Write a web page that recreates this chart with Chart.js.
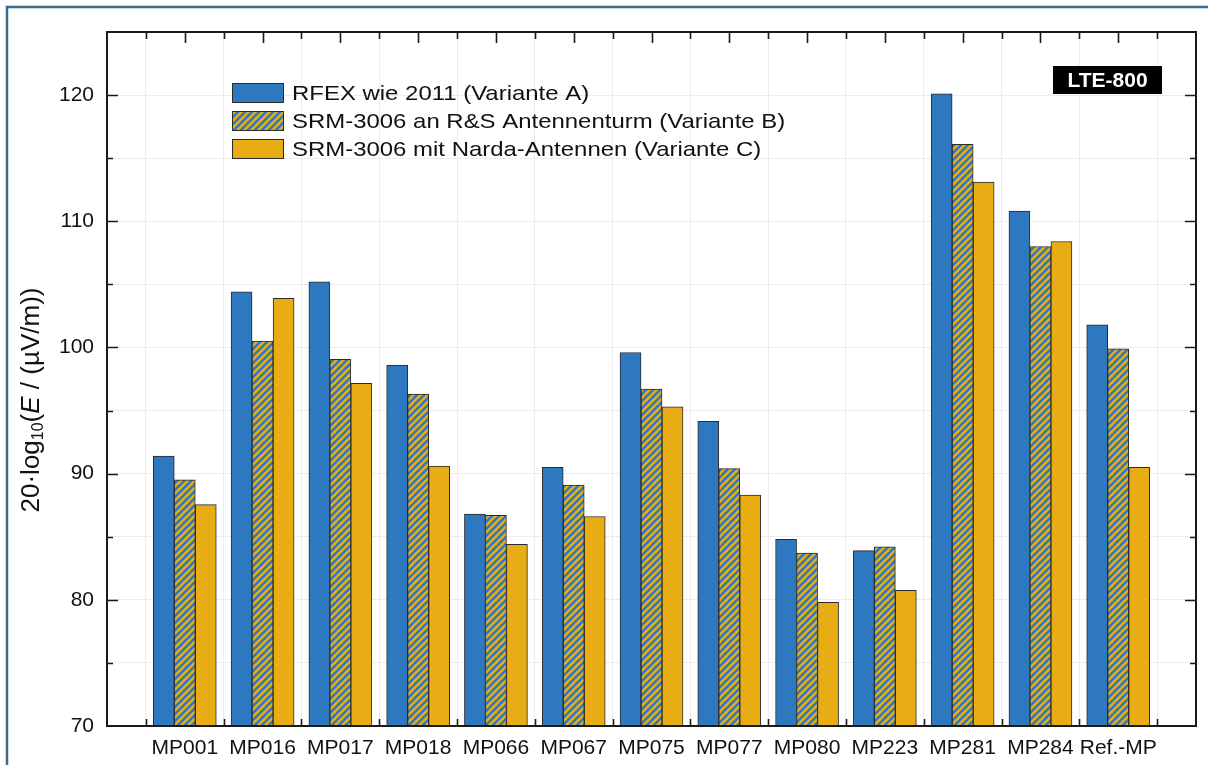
<!DOCTYPE html>
<html>
<head>
<meta charset="utf-8">
<script src="https://cdn.jsdelivr.net/npm/chart.js@4.4.0/dist/chart.umd.min.js"></script>
<style>
  html, body { margin: 0; padding: 0; background: #fff; }
  #wrap { width: 1208px; height: 765px; }
</style>
</head>
<body>
<div id="wrap"><canvas id="chart" width="1208" height="765"></canvas></div>
<script>
// Messpunkte
const categories = ['MP001', 'MP016', 'MP017', 'MP018', 'MP066', 'MP067', 'MP075',
  'MP077', 'MP080', 'MP223', 'MP281', 'MP284', 'Ref.-MP'];

// 20*log10(E/(µV/m)) per Variante
const varianteA = [91.4, 104.4, 105.2, 98.6, 86.8, 90.5, 99.6, 94.15, 84.8, 83.9, 120.1, 110.8, 101.8];
const varianteB = [89.5, 100.5, 99.05, 96.3, 86.7, 89.1, 96.7, 90.4, 83.7, 84.2, 116.1, 108.0, 99.9];
const varianteC = [87.55, 103.9, 97.15, 90.6, 84.4, 86.6, 95.3, 88.3, 79.8, 80.75, 113.1, 108.4, 90.5];

const seriesLabels = [
  'RFEX wie 2011 (Variante A)',
  'SRM-3006 an R&S Antennenturm (Variante B)',
  'SRM-3006 mit Narda-Antennen (Variante C)'
];
const yTickLabels = [70, 80, 90, 100, 110, 120];
const yMin = 70, yMax = 125;

const BLUE = '#2e78bf';
const YELLOW = '#e8ad14';
const EDGE = '#2b2b2b';
const FONT = '"Liberation Sans", Arial, sans-serif';

// blue/yellow diagonal hatch for Variante B
function makeHatch() {
  const s = 7;
  const c = document.createElement('canvas');
  c.width = s; c.height = s;
  const g = c.getContext('2d');
  g.fillStyle = YELLOW;
  g.fillRect(0, 0, s, s);
  g.strokeStyle = BLUE;
  g.lineWidth = 2.4;
  for (let k = -1; k <= 2; k++) {
    g.beginPath();
    g.moveTo(k * s + s, -s);
    g.lineTo(k * s - 2 * s, 2 * s);
    g.stroke();
  }
  return g.createPattern(c, 'repeat');
}
const hatch = makeHatch();

const toPoints = arr => arr.map((v, i) => ({ x: i, y: v }));

// ticks at every half category: boundaries and centres
const xTicks = [];
for (let v = -1; v <= categories.length; v += 0.5) xTicks.push(v);

const decorations = {
  id: 'decorations',
  beforeDraw(chart) {
    const ctx = chart.ctx;
    ctx.save();
    ctx.fillStyle = '#fff';
    ctx.fillRect(0, 0, chart.width, chart.height);
    ctx.strokeStyle = '#3b6b87';
    ctx.lineWidth = 2.5;
    ctx.beginPath();
    ctx.moveTo(7, chart.height);
    ctx.lineTo(7, 7);
    ctx.lineTo(chart.width, 7);
    ctx.stroke();
    ctx.restore();
  },
  afterDraw(chart) {
    const { ctx, chartArea: a, scales: { x, y } } = chart;
    ctx.save();
    ctx.strokeStyle = '#1a1a1a';
    ctx.lineWidth = 2;
    ctx.strokeRect(a.left, a.top, a.right - a.left, a.bottom - a.top);

    ctx.lineWidth = 1.6;
    ctx.beginPath();
    for (let v = yMin + 5; v < yMax; v += 5) {
      const py = Math.round(y.getPixelForValue(v)) + 0.5;
      const len = v % 10 === 0 ? 11 : 6;
      ctx.moveTo(a.left, py); ctx.lineTo(a.left + len, py);
      ctx.moveTo(a.right, py); ctx.lineTo(a.right - len, py);
    }
    for (let i = -0.5; i < categories.length; i += 0.5) {
      const px = Math.round(x.getPixelForValue(i)) + 0.5;
      const major = Number.isInteger(i);
      ctx.moveTo(px, a.top); ctx.lineTo(px, a.top + (major ? 11 : 7));
      if (!major) { ctx.moveTo(px, a.bottom); ctx.lineTo(px, a.bottom - 7); }
    }
    ctx.stroke();

    // legend
    const colors = chart.data.datasets.map(d => d.backgroundColor);
    ctx.font = '21px ' + FONT;
    ctx.textBaseline = 'middle';
    seriesLabels.forEach((lab, i) => {
      const ty = 83 + i * 28;
      ctx.fillStyle = colors[i];
      ctx.fillRect(232, ty, 52, 20);
      ctx.strokeStyle = EDGE;
      ctx.lineWidth = 1;
      ctx.strokeRect(232.5, ty + 0.5, 51, 19);
      ctx.fillStyle = '#111';
      ctx.save();
      ctx.translate(292, ty + 10);
      ctx.scale(1.14, 1);
      ctx.fillText(lab, 0, 1);
      ctx.restore();
    });

    // LTE-800 badge
    ctx.fillStyle = '#000';
    ctx.fillRect(1053, 66, 109, 28);
    ctx.fillStyle = '#fff';
    ctx.font = 'bold 21px ' + FONT;
    ctx.textAlign = 'center';
    ctx.fillText('LTE-800', 1107.5, 81);

    // y axis title: 20·log10(E / (µV/m))
    ctx.translate(32, 400);
    ctx.rotate(-Math.PI / 2);
    const parts = [
      { t: '20·log', f: '26px ' + FONT, dy: 0 },
      { t: '10', f: '16px ' + FONT, dy: 7 },
      { t: '(', f: '26px ' + FONT, dy: 0 },
      { t: 'E', f: 'italic 26px ' + FONT, dy: 0 },
      { t: ' / (µV/m))', f: '26px ' + FONT, dy: 0 }
    ];
    let total = 0;
    parts.forEach(p => { ctx.font = p.f; p.w = ctx.measureText(p.t).width; total += p.w; });
    let cx = -total / 2;
    ctx.textAlign = 'left';
    ctx.fillStyle = '#111';
    parts.forEach(p => {
      ctx.font = p.f;
      ctx.fillText(p.t, cx, p.dy);
      cx += p.w;
    });
    ctx.restore();
  }
};

new Chart(document.getElementById('chart'), {
  type: 'bar',
  data: {
    datasets: [
      { label: seriesLabels[0], data: toPoints(varianteA), backgroundColor: BLUE },
      { label: seriesLabels[1], data: toPoints(varianteB), backgroundColor: hatch },
      { label: seriesLabels[2], data: toPoints(varianteC), backgroundColor: YELLOW }
    ]
  },
  options: {
    responsive: false,
    animation: false,
    datasets: {
      bar: { borderColor: EDGE, borderWidth: 1, barThickness: 21 }
    },
    layout: { padding: { top: 32, right: 12, left: 0, bottom: 0 } },
    plugins: { legend: { display: false }, tooltip: { enabled: false } },
    scales: {
      x: {
        type: 'linear',
        offset: false,
        min: -1,
        max: categories.length,
        afterBuildTicks: s => { s.ticks = xTicks.map(v => ({ value: v })); },
        afterFit: s => { s.height = 39; },
        ticks: {
          autoSkip: false,
          maxRotation: 0,
          minRotation: 0,
          padding: 10,
          color: '#111',
          font: { family: FONT, size: 21 },
          callback: v => (Number.isInteger(v) && v >= 0 && v < categories.length) ? categories[v] : ''
        },
        grid: {
          drawTicks: false,
          offset: false,
          color: c => (c.tick && !Number.isInteger(c.tick.value) && c.tick.value > -1) ? '#ececec' : 'rgba(0,0,0,0)'
        },
        border: { display: false }
      },
      y: {
        min: yMin,
        max: yMax,
        afterFit: s => { s.width = 107; },
        ticks: {
          stepSize: 5,
          padding: 13,
          color: '#111',
          font: { family: FONT, size: 21 },
          callback: v => yTickLabels.includes(v) ? String(v) : ''
        },
        grid: {
          drawTicks: false,
          color: c => (c.tick && c.tick.value > yMin && c.tick.value < yMax) ? '#ececec' : 'rgba(0,0,0,0)'
        },
        border: { display: false }
      }
    }
  },
  plugins: [decorations]
});
</script>
</body>
</html>
